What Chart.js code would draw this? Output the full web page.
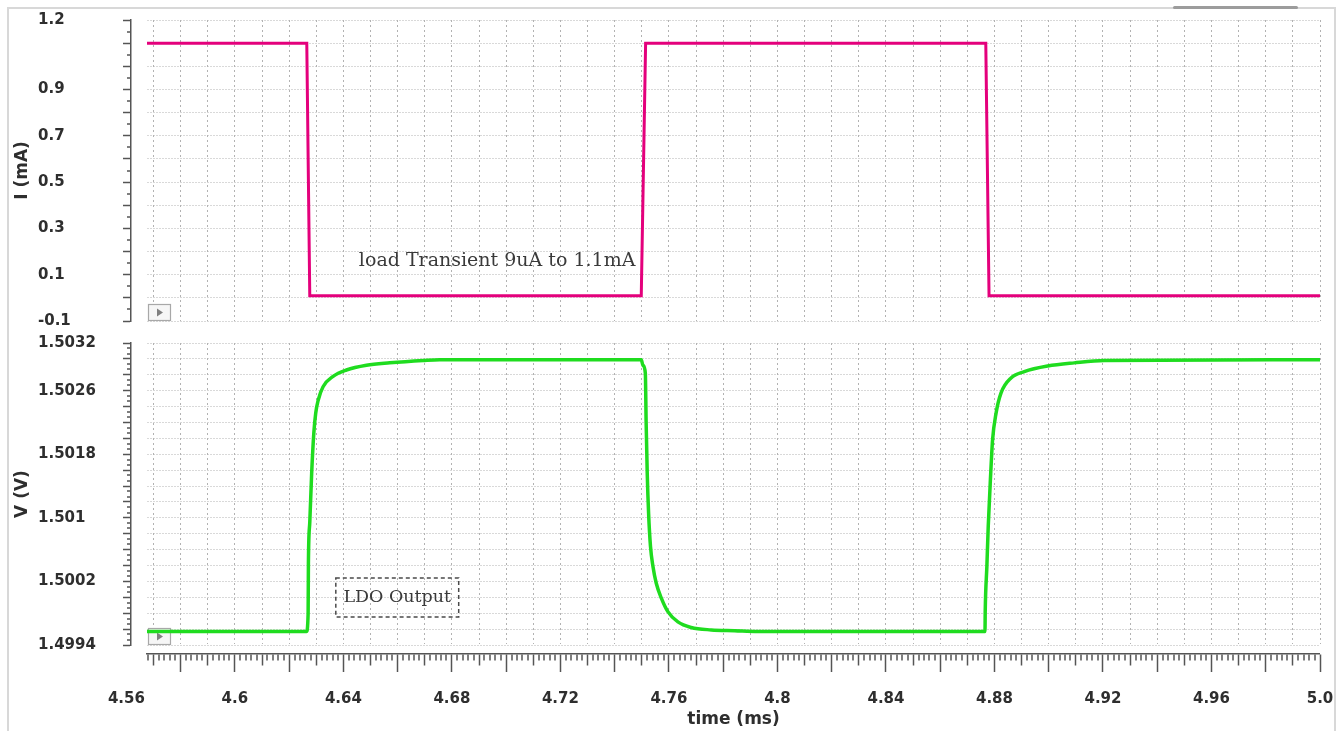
<!DOCTYPE html>
<html>
<head>
<meta charset="utf-8">
<title>LDO load transient</title>
<script src="https://cdn.jsdelivr.net/npm/chart.js@4.4.1/dist/chart.umd.min.js"></script>
<style>
  html, body { margin: 0; padding: 0; background: #fff; }
  body { width: 1343px; height: 731px; position: relative; overflow: hidden; }
  #frame { position: absolute; left: 7px; top: 7px; width: 1329px; height: 760px;
           border: 2px solid #d8d8d8; border-bottom: none; box-sizing: border-box; }
  #tab { position: absolute; left: 1173px; top: 6px; width: 125px; height: 3px;
         background: #9c9c9c; border-radius: 2px; }
  #topWrap { position: absolute; left: 0; top: 0; width: 1343px; height: 332px; }
  #botWrap { position: absolute; left: 0; top: 332px; width: 1343px; height: 399px; }
  canvas { display: block; }
</style>
</head>
<body>
<div id="frame"></div>
<div id="tab"></div>
<div id="topWrap"><canvas id="currentChart" width="1343" height="332"></canvas></div>
<div id="botWrap"><canvas id="voltageChart" width="1343" height="399"></canvas></div>
<script>
// ---- waveform data ----
const timeRange = [4.5676, 5.0];                       // ms

// load current step (mA)
const currentTime = [4.5676, 4.6265, 4.6276, 4.7498, 4.7514, 4.8768, 4.8780, 5.0];
const currentMA   = [1.1,    1.1,    0.009,  0.009,  1.1,    1.1,    0.009,  0.009];

// LDO output voltage (V)
const voltageTime = [
  4.5676, 4.6264, 4.6270, 4.6271, 4.6276, 4.6283, 4.6291, 4.6298, 4.6307, 4.6325,
  4.6362, 4.6411, 4.6485, 4.6571, 4.6694, 4.6755, 4.7498, 4.7504, 4.7513, 4.7516,
  4.7520, 4.7525, 4.7532, 4.7541, 4.7553, 4.7572, 4.7596, 4.7633, 4.7682, 4.7756,
  4.7842, 4.7927, 4.8765, 4.8766, 4.8772, 4.8777, 4.8785, 4.8793, 4.8806, 4.8824,
  4.8861, 4.8910, 4.8996, 4.9094, 4.9204, 5.0
];
const voltageV = [
  1.49957, 1.49957, 1.49980, 1.50043, 1.50094, 1.50156, 1.50207, 1.50232, 1.50248, 1.50265,
  1.50278, 1.50286, 1.50292, 1.50295, 1.50298, 1.50299, 1.50299, 1.50292, 1.50282, 1.50219,
  1.50156, 1.50106, 1.50064, 1.50039, 1.50018, 1.49999, 1.49982, 1.49969, 1.49962, 1.49959,
  1.49958, 1.49957, 1.49957, 1.49984, 1.50039, 1.50089, 1.50148, 1.50198, 1.50232, 1.50257,
  1.50276, 1.50284, 1.50291, 1.50295, 1.50298, 1.50299
];

// axis tick labels
const currentTickLabels = ['1.2', '0.9', '0.7', '0.5', '0.3', '0.1', '-0.1'];
const voltageTickLabels = ['1.5032', '1.5026', '1.5018', '1.501', '1.5002', '1.4994'];
const timeTickLabels = ['4.56', '4.6', '4.64', '4.68', '4.72', '4.76', '4.8', '4.84',
                        '4.88', '4.92', '4.96', '5.0'];

// ---- styling ----
const AXIS_COLOR = '#555555';
const GRID_COLOR = '#b2b2b2';
const TEXT_COLOR = '#2e2e2e';
const TICK_FONT  = { family: 'DejaVu Sans', size: 15, weight: 'bold' };
const TITLE_FONT = { family: 'DejaVu Sans', size: 17, weight: 'bold' };
const CLEAR = 'rgba(0,0,0,0)';

// ---- helpers ----
const near = (a, b) => Math.abs(a - b) < 1e-9;
const isMult = (v, m) => Math.abs(v / m - Math.round(v / m)) < 1e-6;
function series(lo, step, count) {
  const out = [];
  for (let i = 0; i <= count; i++) out.push(+(lo + i * step).toFixed(8));
  return out;
}
function labelFor(list, v) {
  const hit = list.find(s => near(parseFloat(s), v));
  return hit === undefined ? '' : hit;
}
const toPoints = (xs, ys) => xs.map((x, i) => ({ x, y: ys[i] }));

// tick positions
const timeLabelValues = timeTickLabels.map(Number);
const timeTicks = [timeLabelValues[0]].concat(series(4.568, 0.002, 216));
const currentTicks = series(-0.1, 0.05, 26);
const voltStep = 0.0002 / 3;
const voltageTicks = series(1.4994, voltStep, 57);
const voltIndex = v => Math.round((v - 1.4994) / voltStep);

const inRange = v => v >= timeRange[0] - 1e-9;
const noEdgePadding = s => { s.paddingLeft = 0; s.paddingRight = 0; s.paddingTop = 0; s.paddingBottom = 0; };

// axes used by both panels
function timeGridAxis() {
  return {
    type: 'linear', position: 'bottom', weight: 2,
    min: timeRange[0], max: timeRange[1],
    afterBuildTicks: s => { s.ticks = timeTicks.map(v => ({ value: v })); },
    afterFit: s => { s.height = 0; noEdgePadding(s); },
    ticks: { display: false },
    grid: {
      color: GRID_COLOR,
      lineWidth: c => (c.tick && inRange(c.tick.value) && isMult(c.tick.value, 0.01)) ? 1 : 0,
      drawTicks: false
    },
    border: { display: false, dash: [2, 3] }
  };
}
function timeTickAxis() {
  return {
    type: 'linear', position: 'bottom', weight: 2,
    min: timeRange[0], max: timeRange[1],
    afterBuildTicks: s => { s.ticks = timeTicks.map(v => ({ value: v })); },
    afterFit: s => { s.height = 77; noEdgePadding(s); },
    ticks: {
      autoSkip: false, maxRotation: 0, minRotation: 0, padding: 18,
      font: TICK_FONT, color: TEXT_COLOR,
      callback: v => labelFor(timeTickLabels, v)
    },
    grid: {
      color: GRID_COLOR,
      lineWidth: c => (c.tick && inRange(c.tick.value) && isMult(c.tick.value, 0.01)) ? 1 : 0,
      drawTicks: true, tickLength: 18, tickWidth: 1.5,
      tickColor: c => (c.tick && inRange(c.tick.value)) ? AXIS_COLOR : CLEAR,
      tickBorderDash: c => {
        if (!c.tick) return [];
        const v = c.tick.value;
        if (isMult(v, 0.02)) return [];
        if (isMult(v, 0.01)) return [11, 100];
        return [6, 100];
      }
    },
    border: { display: true, color: AXIS_COLOR, width: 1.5, dash: [2, 3] },
    title: { display: true, text: 'time (ms)', font: TITLE_FONT, color: TEXT_COLOR,
             padding: { top: 0, bottom: 1 } }
  };
}
function spacerAxis(position, size, weight) {
  const horizontal = position === 'bottom' || position === 'top';
  return {
    type: 'linear', position, weight, display: true, min: 0, max: 1,
    ticks: { display: false },
    grid: { display: false, drawTicks: false },
    border: { display: false },
    afterFit: s => { if (horizontal) s.height = size; else s.width = size; noEdgePadding(s); }
  };
}
function titleAxis(text) {
  return {
    type: 'linear', position: 'left', weight: 3, display: true, min: 0, max: 1,
    ticks: { display: false },
    grid: { display: false, drawTicks: false },
    border: { display: false },
    afterFit: s => { s.width = 38; noEdgePadding(s); },
    title: { display: true, text, font: TITLE_FONT, color: TEXT_COLOR,
             padding: { top: 12, bottom: 0 } }
  };
}
function valueAxis(min, max, ticks, isMajor, labels) {
  return {
    type: 'linear', position: 'left', weight: 2, min, max,
    afterBuildTicks: s => { s.ticks = ticks.map(v => ({ value: v })); },
    afterFit: s => { s.width = 93; noEdgePadding(s); },
    ticks: {
      autoSkip: false, crossAlign: 'far', font: TICK_FONT, color: TEXT_COLOR,
      callback: v => labelFor(labels, v)
    },
    grid: {
      color: GRID_COLOR,
      lineWidth: c => (c.tick && isMajor(c.tick.value)) ? 1 : 0,
      drawTicks: true, tickLength: 8, tickWidth: 1.5, tickColor: AXIS_COLOR,
      tickBorderDash: c => (c.tick && isMajor(c.tick.value)) ? [] : [0, 4, 4, 100]
    },
    border: { display: true, color: AXIS_COLOR, width: 1.5, dash: [1, 2] }
  };
}

// small play buttons in the lower-left corner and text notes
const decorations = {
  id: 'decorations',
  beforeDatasetsDraw(chart, args, opts) {
    const { ctx, chartArea } = chart;
    const bx = chartArea.left + 1, by = chartArea.bottom - 17, bw = 23, bh = 17;
    ctx.save();
    ctx.fillStyle = '#f6f6f6';
    ctx.strokeStyle = '#a8a8a8';
    ctx.lineWidth = 1.2;
    ctx.fillRect(bx, by, bw, bh);
    ctx.strokeRect(bx + 0.5, by + 0.5, bw - 1, bh - 1);
    ctx.fillStyle = '#808080';
    ctx.beginPath();
    ctx.moveTo(bx + 9, by + 4.5);
    ctx.lineTo(bx + 15, by + 8.5);
    ctx.lineTo(bx + 9, by + 12.5);
    ctx.closePath();
    ctx.fill();
    ctx.restore();
  },
  afterDraw(chart, args, opts) {
    const { ctx, scales } = chart;
    const sx = scales.x, sy = scales.y;
    ctx.save();
    (opts.notes || []).forEach(n => {
      if (n.box) {
        const x0 = sx.getPixelForValue(n.box[0]), y0 = sy.getPixelForValue(n.box[1]);
        const x1 = sx.getPixelForValue(n.box[2]), y1 = sy.getPixelForValue(n.box[3]);
        ctx.strokeStyle = '#4a4a4a';
        ctx.lineWidth = 1.5;
        ctx.setLineDash([4, 3]);
        ctx.strokeRect(x0, y0, x1 - x0, y1 - y0);
        ctx.setLineDash([]);
      }
      ctx.font = n.font;
      ctx.fillStyle = '#3a3a3a';
      ctx.textAlign = n.align;
      ctx.textBaseline = 'middle';
      ctx.fillText(n.text, sx.getPixelForValue(n.x), sy.getPixelForValue(n.y));
    });
    ctx.restore();
  }
};

const common = {
  responsive: false,
  animation: false,
  devicePixelRatio: 1,
  events: [],
  elements: { point: { radius: 0 } }
};

// ---- load current panel ----
new Chart(document.getElementById('currentChart'), {
  type: 'line',
  data: {
    datasets: [{
      data: toPoints(currentTime, currentMA),
      borderColor: '#e4007c', borderWidth: 3, tension: 0,
      borderJoinStyle: 'miter', pointRadius: 0
    }]
  },
  options: Object.assign({}, common, {
    layout: { padding: { left: 0, right: 23, top: 20, bottom: 11 } },
    scales: {
      x: timeGridAxis(),
      y: valueAxis(-0.1, 1.2, currentTicks, v => isMult(v, 0.1), currentTickLabels),
      ys: spacerAxis('left', 16, 1),
      yt: titleAxis('I (mA)')
    },
    plugins: {
      legend: { display: false },
      tooltip: { enabled: false },
      decorations: { notes: [
        { text: 'load Transient 9uA to 1.1mA', x: 4.6457, y: 0.158, align: 'left',
          font: '19px "DejaVu Serif"' }
      ] }
    }
  }),
  plugins: [decorations]
});

// ---- output voltage panel ----
new Chart(document.getElementById('voltageChart'), {
  type: 'line',
  data: {
    datasets: [{
      data: toPoints(voltageTime, voltageV),
      borderColor: '#1fdc1f', borderWidth: 3.5,
      cubicInterpolationMode: 'monotone', borderJoinStyle: 'round', pointRadius: 0
    }]
  },
  options: Object.assign({}, common, {
    layout: { padding: { left: 0, right: 23, top: 11, bottom: 0 } },
    scales: {
      x: timeTickAxis(),
      xs: spacerAxis('bottom', 9, 1),
      y: valueAxis(1.4994, 1.5032, voltageTicks, v => voltIndex(v) % 3 === 0, voltageTickLabels),
      ys: spacerAxis('left', 16, 1),
      yt: titleAxis('V (V)')
    },
    plugins: {
      legend: { display: false },
      tooltip: { enabled: false },
      decorations: { notes: [
        { text: 'LDO Output', x: 4.65985, y: 1.4999975, align: 'center',
          font: '17.5px "DejaVu Serif"', box: [4.6372, 1.500243, 4.6825, 1.499752] }
      ] }
    }
  }),
  plugins: [decorations]
});
</script>
</body>
</html>
